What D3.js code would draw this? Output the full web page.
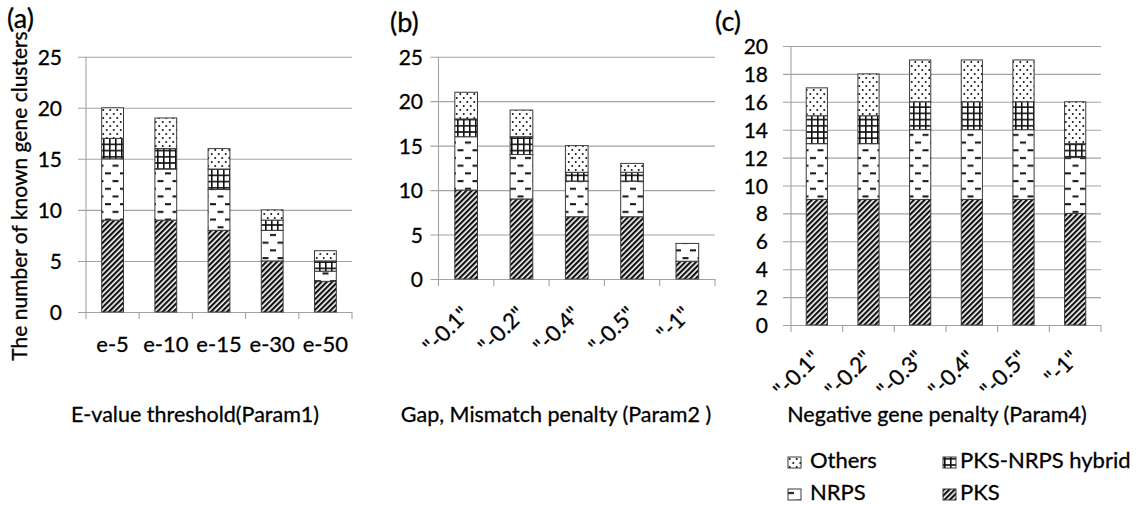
<!DOCTYPE html>
<html>
<head>
<meta charset="utf-8">
<script src="https://cdn.jsdelivr.net/npm/d3@7"></script>
<style>
  body { margin: 0; background: #fff; }
  text { font-family: Lato, "Open Sans", sans-serif; fill: #000; stroke: #000; stroke-width: 0.3px; }
</style>
</head>
<body>
<svg id="chart" width="1138" height="505"></svg>
<script>
// stack order, bottom to top
const keys = ["PKS", "NRPS", "hybrid", "Others"];

// (a) E-value threshold
const catsA   = ["e-5", "e-10", "e-15", "e-30", "e-50"];
const pksA    = [9, 9, 8, 5, 3];
const nrpsA   = [6, 5, 4, 3, 1];
const hybridA = [2, 2, 2, 1, 1];
const othersA = [3, 3, 2, 1, 1];

// (b) Gap, Mismatch penalty
const catsB   = ['"-0.1"', '"-0.2"', '"-0.4"', '"-0.5"', '"-1"'];
const pksB    = [10, 9, 7, 7, 2];
const nrpsB   = [6, 5, 4, 4, 2];
const hybridB = [2, 2, 1, 1, 0];
const othersB = [3, 3, 3, 1, 0];

// (c) Negative gene penalty
const catsC   = ['"-0.1"', '"-0.2"', '"-0.3"', '"-0.4"', '"-0.5"', '"-1"'];
const pksC    = [9, 9, 9, 9, 9, 8];
const nrpsC   = [4, 4, 5, 5, 5, 4];
const hybridC = [2, 2, 2, 2, 2, 1];
const othersC = [2, 3, 3, 3, 3, 3];

const legendItems = [
  {key: "Others", label: "Others"},
  {key: "hybrid", label: "PKS-NRPS hybrid"},
  {key: "NRPS", label: "NRPS"},
  {key: "PKS", label: "PKS"}
];

const svg = d3.select("#chart");
const defs = svg.append("defs");

const GRID = "#a3a3a3",
      INK = "#111";

// fill patterns (black & white, like the print figure)
let p = defs.append("pattern").attr("id", "pat-PKS")
  .attr("patternUnits", "userSpaceOnUse")
  .attr("width", 3.8).attr("height", 3.8)
  .attr("patternTransform", "rotate(45)");
p.append("rect").attr("width", 3.8).attr("height", 3.8).attr("fill", "#fff");
p.append("rect").attr("width", 2.2).attr("height", 3.8).attr("fill", INK);

p = defs.append("pattern").attr("id", "pat-NRPS")
  .attr("patternUnits", "userSpaceOnUse")
  .attr("width", 15).attr("height", 15.4);
p.append("rect").attr("width", 15).attr("height", 15.4).attr("fill", "#fff");
p.append("rect").attr("x", 0).attr("y", 3).attr("width", 6).attr("height", 2).attr("fill", INK);
p.append("rect").attr("x", 7.5).attr("y", 10.7).attr("width", 6).attr("height", 2).attr("fill", INK);

p = defs.append("pattern").attr("id", "pat-hybrid")
  .attr("patternUnits", "userSpaceOnUse")
  .attr("width", 6).attr("height", 6.2);
p.append("rect").attr("width", 6).attr("height", 6.2).attr("fill", "#fff");
p.append("rect").attr("x", 1).attr("width", 1.6).attr("height", 6.2).attr("fill", INK);
p.append("rect").attr("y", 1).attr("width", 6).attr("height", 1.6).attr("fill", INK);

p = defs.append("pattern").attr("id", "pat-Others")
  .attr("patternUnits", "userSpaceOnUse")
  .attr("width", 7).attr("height", 8);
p.append("rect").attr("width", 7).attr("height", 8).attr("fill", "#fff");
p.append("circle").attr("cx", 1.75).attr("cy", 2).attr("r", 1).attr("fill", INK);
p.append("circle").attr("cx", 5.25).attr("cy", 6).attr("r", 1).attr("fill", INK);

const panels = [
  {id: "a", cats: catsA, series: [pksA, nrpsA, hybridA, othersA],
   x0: 86, x1: 352, yTop: 56.7, yBot: 312, yMax: 25, step: 5, labelRight: 62,
   rotate: false, title: "(a)", tx: 7, ty: 28,
   axisTitle: "E-value threshold(Param1)", atx: 195},
  {id: "b", cats: catsB, series: [pksB, nrpsB, hybridB, othersB],
   x0: 438.5, x1: 715, yTop: 56.7, yBot: 279, yMax: 25, step: 5, labelRight: 423,
   rotate: true, labelDy: 37, title: "(b)", tx: 390, ty: 32,
   axisTitle: "Gap, Mismatch penalty (Param2 )", atx: 556},
  {id: "c", cats: catsC, series: [pksC, nrpsC, hybridC, othersC],
   x0: 791, x1: 1101, yTop: 46, yBot: 325, yMax: 20, step: 2, labelRight: 768,
   rotate: true, labelDy: 35, title: "(c)", tx: 715, ty: 31,
   axisTitle: "Negative gene penalty (Param4)", atx: 937}
];

panels.forEach(drawPanel);

function drawPanel(pn) {
  const g = svg.append("g").attr("class", "panel-" + pn.id);

  const rows = pn.cats.map((c, i) => {
    const r = {cat: c};
    keys.forEach((k, j) => r[k] = pn.series[j][i]);
    return r;
  });
  const stacked = d3.stack().keys(keys)(rows);

  const x = d3.scaleBand().domain(pn.cats).range([pn.x0, pn.x1]).paddingInner(0).paddingOuter(0);
  const y = d3.scaleLinear().domain([0, pn.yMax]).range([pn.yBot, pn.yTop]);
  const barW = x.bandwidth() * 0.41;

  // horizontal grid + y tick labels
  const yAxis = d3.axisLeft(y)
    .tickValues(d3.range(0, pn.yMax + 0.001, pn.step))
    .tickSizeInner(pn.x1 - pn.x0 + 8)
    .tickSizeOuter(0)
    .tickPadding(pn.x0 - 8 - pn.labelRight);
  g.append("g")
    .attr("transform", `translate(${pn.x1},0)`)
    .call(yAxis)
    .call(s => s.select(".domain").remove())
    .call(s => s.selectAll(".tick line").attr("stroke", GRID).attr("stroke-width", 1.1))
    .call(s => s.selectAll(".tick text")
      .attr("font-family", null).attr("fill", null)
      .style("font-size", "21px").attr("dy", "0.36em"));

  // vertical axis line
  g.append("line")
    .attr("x1", pn.x0).attr("x2", pn.x0)
    .attr("y1", pn.yTop).attr("y2", pn.yBot)
    .attr("stroke", GRID).attr("stroke-width", 1.1);

  // category boundary ticks
  g.selectAll("line.btick")
    .data(pn.cats.map(c => x(c)).concat([pn.x1]))
    .join("line")
    .attr("class", "btick")
    .attr("x1", d => d).attr("x2", d => d)
    .attr("y1", pn.yBot).attr("y2", pn.yBot + 7)
    .attr("stroke", GRID).attr("stroke-width", 1.1);

  // bars
  g.selectAll("g.layer")
    .data(stacked)
    .join("g")
    .attr("class", "layer")
    .attr("fill", d => `url(#pat-${d.key})`)
    .selectAll("rect")
    .data(d => d.filter(s => s[1] - s[0] > 0))
    .join("rect")
    .attr("x", d => x(d.data.cat) + (x.bandwidth() - barW) / 2)
    .attr("width", barW)
    .attr("y", d => y(d[1]))
    .attr("height", d => y(d[0]) - y(d[1]))
    .attr("stroke", "#3a3a3a")
    .attr("stroke-width", 1);

  // category labels
  const xAxis = d3.axisBottom(x).tickSize(0).tickPadding(0);
  const xg = g.append("g")
    .attr("transform", `translate(0,${pn.yBot})`)
    .call(xAxis)
    .call(s => s.select(".domain").remove());
  xg.selectAll(".tick text")
    .attr("font-family", null).attr("fill", null)
    .style("font-size", "22px");
  if (pn.rotate) {
    xg.selectAll(".tick text")
      .attr("y", null).attr("dy", null)
      .attr("text-anchor", "end")
      .attr("transform", `translate(5,${pn.labelDy}) rotate(-45)`);
  } else {
    xg.selectAll(".tick text").attr("y", 40).attr("dy", null);
  }

  // panel letter
  g.append("text")
    .attr("x", pn.tx).attr("y", pn.ty)
    .style("font-size", "27px")
    .text(pn.title);

  // axis title
  g.append("text")
    .attr("x", pn.atx).attr("y", 422)
    .attr("text-anchor", "middle")
    .style("font-size", "21.5px")
    .text(pn.axisTitle);
}

// shared y label
svg.append("text")
  .attr("transform", "translate(27,196) rotate(-90)")
  .attr("text-anchor", "middle")
  .style("font-size", "21px")
  .text("The number of known gene clusters");

// legend
const lg = svg.append("g").attr("class", "legend")
  .selectAll("g")
  .data(legendItems)
  .join("g")
  .attr("transform", (d, i) => `translate(${i % 2 ? 943 : 788},${i < 2 ? 457 : 489})`);
lg.append("rect")
  .attr("width", 13).attr("height", 11)
  .attr("fill", d => `url(#pat-${d.key})`)
  .attr("stroke", "#3a3a3a").attr("stroke-width", 1);
lg.append("text")
  .attr("x", d => d.key === "Others" || d.key === "NRPS" ? 22 : 17)
  .attr("y", 11)
  .style("font-size", "22px")
  .text(d => d.label);
</script>
</body>
</html>
